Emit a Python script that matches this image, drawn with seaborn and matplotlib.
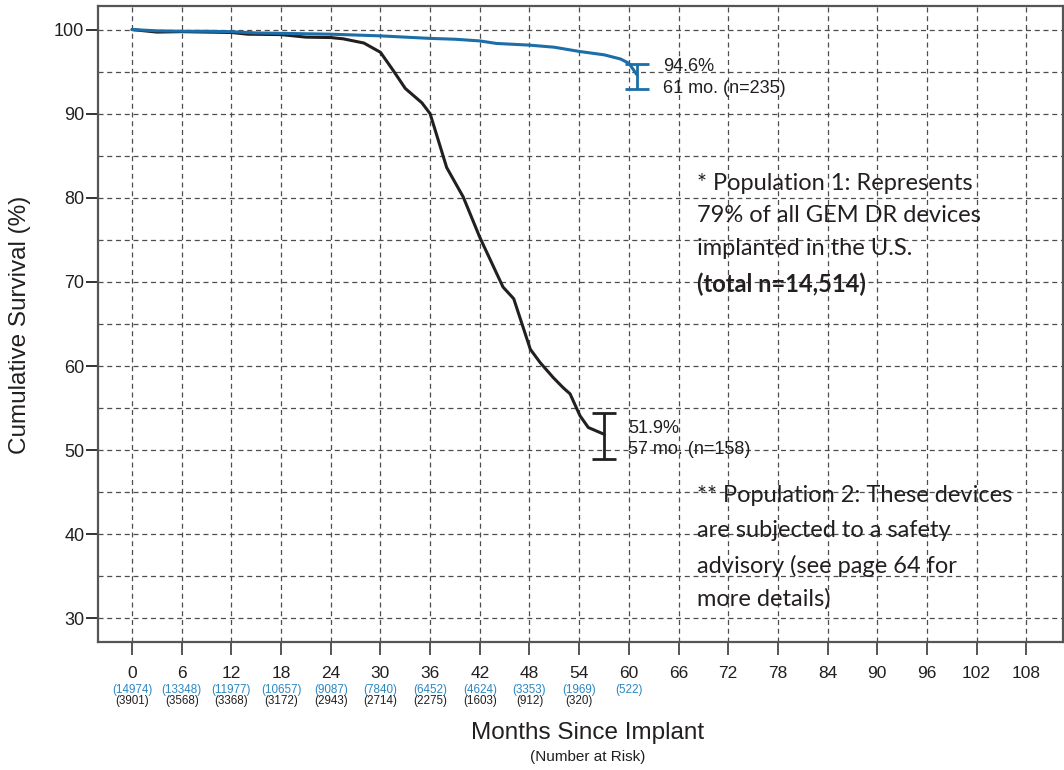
import numpy as np
import pandas as pd
import matplotlib
matplotlib.use("Agg")
import matplotlib.pyplot as plt
import matplotlib.transforms as mtransforms
import seaborn as sns

# ---------------- data ----------------
pop1_months = [0, 3, 6, 9, 12, 15, 18, 21, 24, 27, 30, 33, 36, 39, 42, 44, 48, 51, 54, 57, 59, 60, 61]
pop1_surv = [100, 99.85, 99.8, 99.8, 99.75, 99.6, 99.55, 99.5, 99.45, 99.35, 99.25, 99.1, 98.95,
             98.85, 98.65, 98.35, 98.15, 97.9, 97.4, 97.0, 96.5, 96.0, 94.6]

pop2_months = [0, 3, 6, 12, 14, 18, 21, 24, 25.5, 28, 30, 31.5, 33, 35, 36, 38, 40, 42, 44.8, 46.1,
               48.1, 49.3, 50.9, 52.1, 52.9, 54.1, 55.1, 57]
pop2_surv = [100, 99.7, 99.75, 99.65, 99.45, 99.4, 99.1, 99.05, 98.9, 98.4, 97.3, 95.2, 93.0, 91.3,
             90.0, 83.6, 80.1, 75.3, 69.4, 68.0, 62.0, 60.4, 58.6, 57.4, 56.7, 54.1, 52.7, 51.9]

# end-point confidence intervals
pop1_end = (61, 94.6, 92.98, 95.87)
pop2_end = (57, 51.9, 48.93, 54.48)

x_ticks = list(range(0, 109, 6))
y_ticks = list(range(30, 101, 10))
risk_months = [0, 6, 12, 18, 24, 30, 36, 42, 48, 54, 60]
risk_pop1 = [14974, 13348, 11977, 10657, 9087, 7840, 6452, 4624, 3353, 1969, 522]
risk_pop2 = [3901, 3568, 3368, 3172, 2943, 2714, 2275, 1603, 912, 320]

BLUE = "#1b6ea8"
BLUE_TXT = "#2b87c2"
BLACK = "#231f20"
GRID = "#4d4d4d"

sns.set_style("ticks")
plt.rcParams["font.family"] = ["Liberation Sans", "DejaVu Sans"]

fig = plt.figure(figsize=(10.64, 7.70), dpi=100)
ax = fig.add_axes([0.0918, 0.1662, 0.9070, 0.8260])

df1 = pd.DataFrame({"month": pop1_months, "surv": pop1_surv})
df2 = pd.DataFrame({"month": pop2_months, "surv": pop2_surv})

# grid
for xv in x_ticks:
    ax.axvline(xv, color=GRID, lw=0.9, ls=(0, (4, 3)), zorder=0)
for yv in np.arange(30, 101, 5):
    ax.axhline(yv, color=GRID, lw=0.9, ls=(0, (4, 3)), zorder=0)

sns.lineplot(data=df2, x="month", y="surv", ax=ax, color=BLACK, lw=2.2,
             estimator=None, sort=False, zorder=3)
sns.lineplot(data=df1, x="month", y="surv", ax=ax, color=BLUE, lw=2.2,
             estimator=None, sort=False, zorder=4)

for (m, v, lo, hi), c in [(pop1_end, BLUE), (pop2_end, BLACK)]:
    ax.errorbar([m], [v], yerr=[[v - lo], [hi - v]], fmt="none", ecolor=c,
                elinewidth=2.0, capsize=8.3, capthick=2.0, zorder=5)

# end annotations
fs_end = 13
ax.text(pop1_end[0] + 3.1, 95.6, "94.6%", fontsize=fs_end, color=BLACK, va="center", ha="left")
ax.text(pop1_end[0] + 3.1, 93.0, "61 mo. (n=235)", fontsize=fs_end, color=BLACK, va="center", ha="left")
ax.text(pop2_end[0] + 2.9, 52.6, "51.9%", fontsize=fs_end, color=BLACK, va="center", ha="left")
ax.text(pop2_end[0] + 2.9, 50.05, "57 mo. (n=158)", fontsize=fs_end, color=BLACK, va="center", ha="left")

# population notes
note_font = ["Lato", "DejaVu Sans"]
fs_note = 17
p1_lines = ["* Population 1: Represents", "79% of all GEM DR devices", "implanted in the U.S."]
p1_y = [81.7, 77.9, 74.0]
for t, yy in zip(p1_lines, p1_y):
    ax.text(68.2, yy, t, fontsize=fs_note, family=note_font, color=BLACK, va="center", ha="left")
ax.text(68.2, 69.7, "(total n=14,514)", fontsize=fs_note, family=note_font, fontweight="bold",
        color=BLACK, va="center", ha="left")
p2_lines = ["** Population 2: These devices", "are subjected to a safety",
            "advisory (see page 64 for", "more details)"]
p2_y = [44.6, 40.4, 36.2, 32.3]
for t, yy in zip(p2_lines, p2_y):
    ax.text(68.2, yy, t, fontsize=fs_note, family=note_font, color=BLACK, va="center", ha="left")

ax.set_xlim(-4.15, 112.4)
ax.set_ylim(27.2, 102.8)
ax.set_xticks(x_ticks)
ax.set_xticklabels([str(v) for v in x_ticks])
ax.set_yticks(y_ticks)
ax.set_yticklabels([str(v) for v in y_ticks])
ax.set_xlabel("")
ax.set_ylabel("")
ax.tick_params(axis="x", direction="out", length=9.5, width=1.4, color="#555555",
               labelsize=12.5, pad=8, labelcolor=BLACK)
ax.tick_params(axis="y", direction="out", length=8.6, width=1.4, color="#333333",
               labelsize=13, pad=1, labelcolor=BLACK)
for s in ax.spines.values():
    s.set_color("#555555")
    s.set_linewidth(1.6)
    s.set_visible(True)

# number at risk
trans = mtransforms.blended_transform_factory(ax.transData, fig.transFigure)
for m, n in zip(risk_months, risk_pop1):
    ax.text(m, 1 - 690 / 770, f"({n})", transform=trans, fontsize=8.4, color=BLUE_TXT,
            ha="center", va="center")
for m, n in zip(risk_months, risk_pop2):
    ax.text(m, 1 - 701 / 770, f"({n})", transform=trans, fontsize=8.4, color=BLACK,
            ha="center", va="center")

fig.text(588 / 1064, 1 - 733 / 770, "Months Since Implant", fontsize=17.5, ha="center", va="center",
         color=BLACK)
fig.text(588 / 1064, 1 - 757 / 770, "(Number at Risk)", fontsize=11, ha="center", va="center",
         color=BLACK)
fig.text(20 / 1064, 1 - 325 / 770, "Cumulative Survival (%)", fontsize=17.5, rotation=90,
         ha="center", va="center", color=BLACK)

fig.savefig("out.png", dpi=100)
